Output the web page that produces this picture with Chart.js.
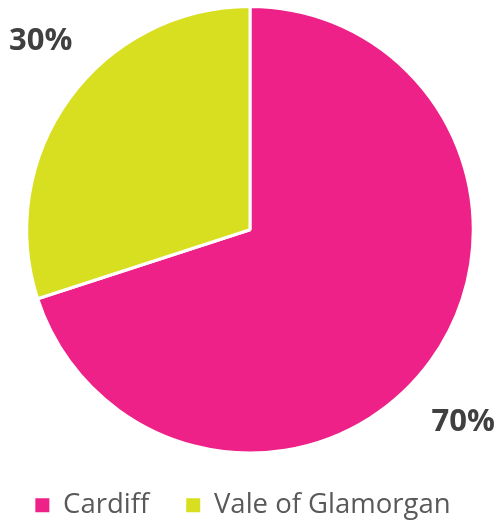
<!DOCTYPE html>
<html lang="en">
<head>
    <meta charset="UTF-8">
    <title>Cardiff and Vale of Glamorgan</title>
    <script src="https://cdn.jsdelivr.net/npm/chart.js"></script>
    <style>
        html, body { margin: 0; padding: 0; background: #fff; }
        #wrap { width: 500px; height: 523px; }
    </style>
</head>
<body>
    <div id="wrap"><canvas id="myChart"></canvas></div>

    <script>
        const areas = ['Cardiff', 'Vale of Glamorgan'];
        const shares = [70, 30];
        const sliceColours = ['#ED2187', '#D8DF21'];

        // percentage labels, pushed out to the corner in the slice's direction
        const cornerLabels = {
            id: 'cornerLabels',
            afterDatasetsDraw(chart) {
                const ctx = chart.ctx;
                const meta = chart.getDatasetMeta(0);
                ctx.save();
                ctx.font = 'bold 31px "Open Sans"';
                ctx.fillStyle = '#404040';
                ctx.textAlign = 'center';
                ctx.textBaseline = 'middle';
                meta.data.forEach((arc, i) => {
                    const mid = (arc.startAngle + arc.endAngle) / 2;
                    const r = arc.outerRadius;
                    const x = arc.x + Math.sign(Math.cos(mid)) * (r - 12) + 2;
                    const y = arc.y + Math.sign(Math.sin(mid)) * (r - 33) + 2;
                    ctx.fillText(shares[i] + '%', x, y);
                });
                ctx.restore();
            }
        };

        // nudge the legend a little left, as in the original
        const legendNudge = {
            id: 'legendNudge',
            afterLayout(chart) {
                if (chart.legend) {
                    chart.legend.left -= 7;
                    chart.legend.right -= 7;
                }
            }
        };

        const defaultLabels = Chart.controllers.pie.overrides.plugins.legend.labels.generateLabels;

        new Chart(document.getElementById('myChart'), {
            type: 'pie',
            data: {
                labels: areas,
                datasets: [{
                    data: shares,
                    backgroundColor: sliceColours,
                    borderColor: '#ffffff',
                    borderWidth: 3
                }]
            },
            options: {
                responsive: true,
                maintainAspectRatio: false,
                animation: false,
                layout: { padding: { top: 5, bottom: -6 } },
                plugins: {
                    tooltip: { enabled: false },
                    legend: {
                        position: 'bottom',
                        labels: {
                            boxWidth: 14,
                            boxHeight: 14,
                            padding: 37,
                            color: '#595959',
                            font: { family: 'Open Sans', size: 27.5 },
                            // no white outline on the legend squares
                            generateLabels(chart) {
                                return defaultLabels(chart).map(item => ({ ...item, lineWidth: 0 }));
                            }
                        }
                    }
                }
            },
            plugins: [cornerLabels, legendNudge]
        });
    </script>
</body>
</html>
